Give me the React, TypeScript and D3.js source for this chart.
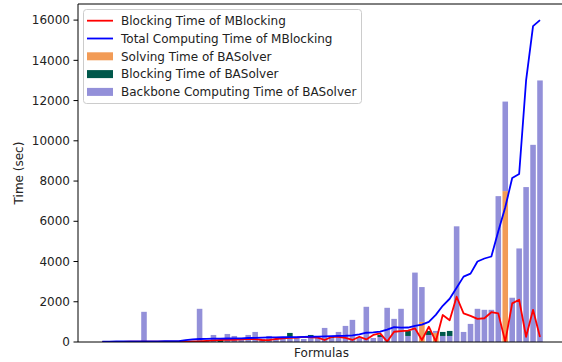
import React from 'react';
import * as d3 from 'd3';

// per-formula times (sec), formulas sorted by total computing time of MBlocking
const mbBlocking = [
  10, 10, 10, 10, 12, 12, 12, 14, 14, 15, 16, 18, 20, 30, 30, 60,
  80, 100, 120, 110, 130, 150, 140, 100, 90, 150, 180, 200, 220, 250, 230, 220,
  100, 250, 260, 200, 100, 260, 130, 350, 430, 20, 510, 540, 570, 680,
  100, 760, 30, 1340, 1080, 2250, 1420, 1300, 1150, 1180, 1480, 1420, 20, 1920, 2100, 260,
  1600, 250,
];
const mbTotal = [
  20, 20, 25, 25, 30, 30, 30, 35, 35, 40, 40, 45, 90, 130, 150, 160,
  165, 170, 175, 180, 185, 200, 210, 215, 225, 230, 235, 240, 245, 255, 260, 265,
  275, 290, 300, 310, 330, 380, 460, 480, 520, 620, 740, 710, 720, 800,
  860, 1000, 1350, 1800, 2150, 2700, 3250, 3400, 4000, 4150, 4250, 5500, 6700, 8150, 8350, 13000,
  15700, 16000,
];
const solving = [
  0, 0, 0, 0, 0, 0, 0, 0, 0, 0, 0, 0, 0, 0, 0, 0,
  0, 0, 0, 0, 0, 0, 0, 0, 0, 0, 0, 0, 0, 0, 0, 0,
  0, 0, 0, 0, 0, 0, 0, 0, 0, 0, 0, 0, 0, 0,
  1000, 0, 450, 0, 0, 0, 0, 0, 0, 0, 0, 0, 7500, 0, 0, 0,
  0, 0,
];
const backbone = [
  0, 0, 0, 0, 0, 0, 1500, 0, 0, 0, 0, 0, 0, 0, 1650, 50,
  350, 0, 400, 300, 100, 350, 500, 150, 300, 150, 200, 250, 200, 150, 200, 250,
  700, 200, 500, 800, 1100, 250, 1750, 200, 250, 1700, 1150, 1650, 300, 3450,
  1730, 350, 100, 300, 300, 5750, 500, 900, 1650, 1600, 1600, 7250, 4450, 2200, 4650, 7700,
  9800, 13000,
];
const blocking = [
  0, 0, 0, 0, 0, 0, 0, 0, 0, 0, 0, 0, 0, 0, 0, 0,
  0, 100, 0, 0, 0, 0, 0, 0, 0, 0, 0, 200, 0, 0, 150, 0,
  0, 100, 0, 0, 0, 0, 0, 0, 100, 0, 0, 0, 250, 0,
  0, 200, 0, 200, 250, 0, 0, 0, 0, 0, 0, 0, 0, 0, 0, 0,
  0, 0,
];
const yTicks = [0, 2000, 4000, 6000, 8000, 10000, 12000, 14000, 16000];

const legendItems = [
  { label: 'Blocking Time of MBlocking', color: '#ff0000', kind: 'line' },
  { label: 'Total Computing Time of MBlocking', color: '#0000ff', kind: 'line' },
  { label: 'Solving Time of BASolver', color: '#f29b56', kind: 'patch' },
  { label: 'Blocking Time of BASolver', color: '#00584b', kind: 'patch' },
  { label: 'Backbone Computing Time of BASolver', color: '#9390d9', kind: 'patch' },
];

const W = 562;
const H = 362;
const left = 78;
const right = 565;
const top = 4;
const bottom = 342;
const font = 'DejaVu Sans, sans-serif';
const fs = 12;

export default function App() {
  const idx = d3.range(mbTotal.length);
  const x = d3.scaleLinear().domain([-3.5, 66.6]).range([left, right]);
  const y = d3.scaleLinear().domain([0, 16800]).range([bottom, top]);
  const bw = x(0.8) - x(0);

  const line = (vals: number[]) =>
    d3.line<number>().x((i) => x(i)).y((i) => y(vals[i]))(idx) || '';

  const bar = (i: number, base: number, h: number, color: string) =>
    h > 0 ? (
      <rect key={`${color}-${i}`} x={x(i) - bw / 2} y={y(base + h)} width={bw}
        height={y(base) - y(base + h)} fill={color} />
    ) : null;

  return (
    <div style={{ position: 'absolute', left: 0, top: 0 }}>
      <svg width={W} height={H} style={{ display: 'block', background: '#fff' }} fontFamily={font}>
        <defs>
          <clipPath id="plot">
            <rect x={left} y={top} width={right - left} height={bottom - top} />
          </clipPath>
        </defs>
        <g clipPath="url(#plot)">
          {idx.map((i) => bar(i, 0, solving[i], legendItems[2].color))}
          {idx.map((i) => bar(i, solving[i], backbone[i], legendItems[4].color))}
          {idx.map((i) => bar(i, solving[i] + backbone[i], blocking[i], legendItems[3].color))}
          <path d={line(mbBlocking)} fill="none" stroke="#ff0000" strokeWidth={1.8} strokeLinejoin="round" />
          <path d={line(mbTotal)} fill="none" stroke="#0000ff" strokeWidth={1.8} strokeLinejoin="round" />
        </g>
        {/* spines */}
        <line x1={left} x2={left} y1={top} y2={bottom} stroke="#000" strokeWidth={1} />
        <line x1={left} x2={right} y1={top} y2={top} stroke="#000" strokeWidth={1} />
        <line x1={left} x2={right} y1={bottom} y2={bottom} stroke="#000" strokeWidth={1} />
        <line x1={right} x2={right} y1={top} y2={bottom} stroke="#000" strokeWidth={1} />
        {yTicks.map((t) => (
          <g key={t} transform={`translate(0,${y(t)})`}>
            <line x1={left - 4.5} x2={left} stroke="#000" strokeWidth={1} />
            <text x={left - 8} dy="0.35em" textAnchor="end" fontSize={fs} fill="#222">{t}</text>
          </g>
        ))}
        <text transform={`translate(23,${(top + bottom) / 2}) rotate(-90)`} textAnchor="middle"
          fontSize={fs} fill="#222">Time (sec)</text>
        <text x={(left + right) / 2} y={357} textAnchor="middle" fontSize={fs} fill="#222">Formulas</text>
        {/* legend */}
        <rect x={83.5} y={9.5} width={278} height={94} rx={3} fill="#fff" fillOpacity={0.8} stroke="#ccc" />
        {legendItems.map((d, k) => {
          const cy = 20.7 + k * 17.8;
          return (
            <g key={d.label}>
              {d.kind === 'line' ? (
                <line x1={87} x2={113} y1={cy} y2={cy} stroke={d.color} strokeWidth={1.8} />
              ) : (
                <rect x={87} y={cy - 4} width={26} height={8} fill={d.color} />
              )}
              <text x={121} y={cy} dy="0.35em" fontSize={fs} fill="#222">{d.label}</text>
            </g>
          );
        })}
      </svg>
    </div>
  );
}
